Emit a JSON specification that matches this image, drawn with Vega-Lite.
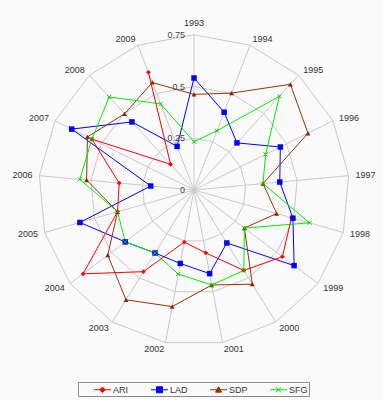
{
  "$schema": "https://vega.github.io/schema/vega-lite/v6.json",
  "width": 383,
  "height": 400,
  "autosize": "none",
  "padding": 0,
  "background": "#fafafa",
  "config": {"view": {"stroke": null}, "font": "Liberation Sans"},
  "datasets": {
    "series": [
      {"series": "ARI", "year": 1998, "value": 0.49},
      {"series": "ARI", "year": 1999, "value": 0.535},
      {"series": "ARI", "year": 2000, "value": 0.457},
      {"series": "ARI", "year": 2001, "value": 0.309},
      {"series": "ARI", "year": 2002, "value": 0.256},
      {"series": "ARI", "year": 2003, "value": 0.464},
      {"series": "ARI", "year": 2004, "value": 0.672},
      {"series": "ARI", "year": 2005, "value": 0.384},
      {"series": "ARI", "year": 2006, "value": 0.363},
      {"series": "ARI", "year": 2007, "value": 0.551},
      {"series": "ARI", "year": 2008, "value": 0.168},
      {"series": "ARI", "year": 2009, "value": 0.61},
      {"series": "LAD", "year": 1993, "value": 0.541},
      {"series": "LAD", "year": 1994, "value": 0.403},
      {"series": "LAD", "year": 1995, "value": 0.308},
      {"series": "LAD", "year": 1996, "value": 0.466},
      {"series": "LAD", "year": 1997, "value": 0.416},
      {"series": "LAD", "year": 1998, "value": 0.497},
      {"series": "LAD", "year": 1999, "value": 0.606},
      {"series": "LAD", "year": 2000, "value": 0.301},
      {"series": "LAD", "year": 2001, "value": 0.411},
      {"series": "LAD", "year": 2002, "value": 0.361},
      {"series": "LAD", "year": 2003, "value": 0.358},
      {"series": "LAD", "year": 2004, "value": 0.416},
      {"series": "LAD", "year": 2005, "value": 0.573},
      {"series": "LAD", "year": 2006, "value": 0.21},
      {"series": "LAD", "year": 2007, "value": 0.66},
      {"series": "LAD", "year": 2008, "value": 0.445},
      {"series": "LAD", "year": 2009, "value": 0.226},
      {"series": "SDP", "year": 1993, "value": 0.462},
      {"series": "SDP", "year": 1994, "value": 0.502},
      {"series": "SDP", "year": 1995, "value": 0.691},
      {"series": "SDP", "year": 1996, "value": 0.615},
      {"series": "SDP", "year": 1997, "value": 0.335},
      {"series": "SDP", "year": 1998, "value": 0.415},
      {"series": "SDP", "year": 1999, "value": 0.305},
      {"series": "SDP", "year": 2000, "value": 0.535},
      {"series": "SDP", "year": 2001, "value": 0.467},
      {"series": "SDP", "year": 2002, "value": 0.573},
      {"series": "SDP", "year": 2003, "value": 0.624},
      {"series": "SDP", "year": 2004, "value": 0.522},
      {"series": "SDP", "year": 2005, "value": 0.384},
      {"series": "SDP", "year": 2006, "value": 0.521},
      {"series": "SDP", "year": 2007, "value": 0.575},
      {"series": "SDP", "year": 2008, "value": 0.498},
      {"series": "SDP", "year": 2009, "value": 0.557},
      {"series": "SFG", "year": 1993, "value": 0.233},
      {"series": "SFG", "year": 1994, "value": 0.307},
      {"series": "SFG", "year": 1995, "value": 0.613},
      {"series": "SFG", "year": 1996, "value": 0.386},
      {"series": "SFG", "year": 1997, "value": 0.335},
      {"series": "SFG", "year": 1998, "value": 0.58},
      {"series": "SFG", "year": 1999, "value": 0.305},
      {"series": "SFG", "year": 2000, "value": 0.457},
      {"series": "SFG", "year": 2001, "value": 0.467},
      {"series": "SFG", "year": 2002, "value": 0.413},
      {"series": "SFG", "year": 2003, "value": 0.358},
      {"series": "SFG", "year": 2004, "value": 0.416},
      {"series": "SFG", "year": 2005, "value": 0.384},
      {"series": "SFG", "year": 2006, "value": 0.554},
      {"series": "SFG", "year": 2007, "value": 0.551},
      {"series": "SFG", "year": 2008, "value": 0.608},
      {"series": "SFG", "year": 2009, "value": 0.446}
    ],
    "years": [
      {"year": 1993, "label": "1993", "lv": [0.25, 0.5, 0.75]},
      {"year": 1994, "label": "1994", "lv": [0.25, 0.5, 0.75]},
      {"year": 1995, "label": "1995", "lv": [0.25, 0.5, 0.75]},
      {"year": 1996, "label": "1996", "lv": [0.25, 0.5, 0.75]},
      {"year": 1997, "label": "1997", "lv": [0.25, 0.5, 0.75]},
      {"year": 1998, "label": "1998", "lv": [0.25, 0.5, 0.75]},
      {"year": 1999, "label": "1999", "lv": [0.25, 0.5, 0.75]},
      {"year": 2000, "label": "2000", "lv": [0.25, 0.5, 0.75]},
      {"year": 2001, "label": "2001", "lv": [0.25, 0.5, 0.75]},
      {"year": 2002, "label": "2002", "lv": [0.25, 0.5, 0.75]},
      {"year": 2003, "label": "2003", "lv": [0.25, 0.5, 0.75]},
      {"year": 2004, "label": "2004", "lv": [0.25, 0.5, 0.75]},
      {"year": 2005, "label": "2005", "lv": [0.25, 0.5, 0.75]},
      {"year": 2006, "label": "2006", "lv": [0.25, 0.5, 0.75]},
      {"year": 2007, "label": "2007", "lv": [0.25, 0.5, 0.75]},
      {"year": 2008, "label": "2008", "lv": [0.25, 0.5, 0.75]},
      {"year": 2009, "label": "2009", "lv": [0.25, 0.5, 0.75]}
    ],
    "ticks": [
      {"v": 0, "label": "0"},
      {"v": 0.25, "label": "0.25"},
      {"v": 0.5, "label": "0.5"},
      {"v": 0.75, "label": "0.75"}
    ]
  },
  "transform": [
    {"calculate": "(datum.year - 1993) * 2 * PI / 17", "as": "ang"},
    {"calculate": "datum.value * sin(datum.ang)", "as": "px"},
    {"calculate": "datum.value * cos(datum.ang)", "as": "py"}
  ],
  "data": {"name": "series"},
  "layer": [
    {
      "data": {"name": "years"},
      "transform": [
        {"flatten": ["lv"]},
        {"calculate": "(datum.year - 1993) * 2 * PI / 17", "as": "ang"},
        {"calculate": "datum.lv * sin(datum.ang)", "as": "gx"},
        {"calculate": "datum.lv * cos(datum.ang)", "as": "gy"}
      ],
      "mark": {"type": "line", "interpolate": "linear-closed", "stroke": "#cdc6cd", "strokeWidth": 1},
      "encoding": {
        "x": {"field": "gx", "type": "quantitative", "scale": {"domain": [-0.9372, 0.913], "nice": false, "zero": false}, "axis": null},
        "y": {"field": "gy", "type": "quantitative", "scale": {"domain": [-1.0145, 0.9179], "nice": false, "zero": false}, "axis": null},
        "detail": {"field": "lv", "type": "nominal"},
        "order": {"field": "year", "type": "quantitative"}
      }
    },
    {
      "data": {"name": "years"},
      "transform": [
        {"calculate": "(datum.year - 1993) * 2 * PI / 17", "as": "ang"},
        {"calculate": "0.75 * sin(datum.ang)", "as": "sx"},
        {"calculate": "0.75 * cos(datum.ang)", "as": "sy"}
      ],
      "mark": {"type": "rule", "stroke": "#cdc6cd", "strokeWidth": 1},
      "encoding": {
        "x": {"field": "sx", "type": "quantitative"},
        "y": {"field": "sy", "type": "quantitative"},
        "x2": {"datum": 0},
        "y2": {"datum": 0}
      }
    },
    {
      "transform": [{"filter": "datum.series != 'ARI'"}],
      "mark": {"type": "line", "interpolate": "linear-closed", "strokeWidth": 1},
      "encoding": {
        "x": {"field": "px", "type": "quantitative"},
        "y": {"field": "py", "type": "quantitative"},
        "order": {"field": "year", "type": "quantitative"},
        "color": {
          "field": "series", "type": "nominal",
          "scale": {"domain": ["ARI", "LAD", "SDP", "SFG"], "range": ["#ff0000", "#0000ff", "#993300", "#00ee00"]},
          "legend": {
            "orient": "none", "legendX": 78, "legendY": 382,
            "direction": "horizontal", "columns": 4,
            "title": " ", "titleOrient": "left", "titlePadding": 17, "titleFontSize": 9,
            "padding": 1, "strokeColor": "#8c8c8c", "fillColor": "#fafafa",
            "symbolSize": 144, "labelOffset": 4, "columnPadding": 19,
            "symbolStrokeWidth": 1,
            "labelFont": "Liberation Sans", "labelFontSize": 9, "labelColor": "#333333",
            "labelExpr": "datum.label == 'SFG' ? 'SFG\u2007\u2007\u2007' : datum.label",
            "encode": {
              "symbols": {
                "update": {
                  "shape": {"signal": "datum.value == 'ARI' ? 'M-1.42,0L1.42,0M0,-0.45L0.45,0L0,0.45L-0.45,0Z' : datum.value == 'LAD' ? 'M-1.42,0L1.42,0M-0.5,-0.5L0.5,-0.5L0.5,0.5L-0.5,0.5Z' : datum.value == 'SDP' ? 'M-1.42,0L1.42,0M0,-0.5L0.5,0.4L-0.5,0.4Z' : 'M-1.42,0L1.42,0M-0.45,-0.45L0.45,0.45M-0.45,0.45L0.45,-0.45'"},
                  "fill": {"signal": "scale('color', datum.value)"},
                  "stroke": {"signal": "scale('color', datum.value)"},
                  "strokeWidth": {"value": 1},
                  "strokeOpacity": {"value": 1},
                  "fillOpacity": {"value": 1},
                  "opacity": {"value": 1}
                }
              }
            }
          }
        }
      }
    },
    {
      "transform": [{"filter": "datum.series == 'ARI'"}],
      "mark": {"type": "line", "interpolate": "linear", "strokeWidth": 1},
      "encoding": {
        "x": {"field": "px", "type": "quantitative"},
        "y": {"field": "py", "type": "quantitative"},
        "order": {"field": "year", "type": "quantitative"},
        "color": {"field": "series", "type": "nominal"}
      }
    },
    {
      "transform": [{"filter": "datum.series == 'ARI'"}],
      "mark": {"type": "point", "shape": "diamond", "filled": true, "opacity": 1, "size": 22, "color": "#ff0000"},
      "encoding": {
        "x": {"field": "px", "type": "quantitative"},
        "y": {"field": "py", "type": "quantitative"}
      }
    },
    {
      "transform": [{"filter": "datum.series == 'LAD'"}],
      "mark": {"type": "point", "shape": "square", "filled": true, "opacity": 1, "size": 30, "color": "#0000ff"},
      "encoding": {
        "x": {"field": "px", "type": "quantitative"},
        "y": {"field": "py", "type": "quantitative"}
      }
    },
    {
      "transform": [{"filter": "datum.series == 'SDP'"}],
      "mark": {"type": "point", "shape": "triangle-up", "filled": true, "opacity": 1, "size": 24, "color": "#8b2500"},
      "encoding": {
        "x": {"field": "px", "type": "quantitative"},
        "y": {"field": "py", "type": "quantitative"}
      }
    },
    {
      "transform": [{"filter": "datum.series == 'SFG'"}],
      "mark": {"type": "point", "shape": "M-1,-1L1,1M-1,1L1,-1", "filled": false, "opacity": 1, "size": 16, "strokeWidth": 1, "color": "#00cc00"},
      "encoding": {
        "x": {"field": "px", "type": "quantitative"},
        "y": {"field": "py", "type": "quantitative"}
      }
    },
    {
      "data": {"name": "ticks"},
      "transform": [],
      "mark": {"type": "text", "align": "right", "baseline": "middle", "dx": -9, "fontSize": 9, "font": "Liberation Sans", "color": "#444444"},
      "encoding": {
        "x": {"datum": 0},
        "y": {"field": "v", "type": "quantitative"},
        "text": {"field": "label", "type": "nominal"}
      }
    },
    {
      "data": {"name": "years"},
      "transform": [
        {"calculate": "(datum.year - 1993) * 2 * PI / 17", "as": "ang"},
        {"calculate": "0.783 * sin(datum.ang)", "as": "lx"},
        {"calculate": "0.783 * cos(datum.ang)", "as": "ly"},
        {"filter": "datum.year >= 1994 && datum.year <= 2001"}
      ],
      "mark": {"type": "text", "align": "left", "baseline": "middle", "fontSize": 9, "font": "Liberation Sans", "color": "#333333"},
      "encoding": {
        "x": {"field": "lx", "type": "quantitative"},
        "y": {"field": "ly", "type": "quantitative"},
        "text": {"field": "label", "type": "nominal"}
      }
    },
    {
      "data": {"name": "years"},
      "transform": [
        {"calculate": "(datum.year - 1993) * 2 * PI / 17", "as": "ang"},
        {"calculate": "0.783 * sin(datum.ang)", "as": "lx"},
        {"calculate": "0.783 * cos(datum.ang)", "as": "ly"},
        {"filter": "datum.year >= 2002"}
      ],
      "mark": {"type": "text", "align": "right", "baseline": "middle", "fontSize": 9, "font": "Liberation Sans", "color": "#333333"},
      "encoding": {
        "x": {"field": "lx", "type": "quantitative"},
        "y": {"field": "ly", "type": "quantitative"},
        "text": {"field": "label", "type": "nominal"}
      }
    },
    {
      "data": {"name": "years"},
      "transform": [
        {"calculate": "(datum.year - 1993) * 2 * PI / 17", "as": "ang"},
        {"calculate": "0.783 * sin(datum.ang)", "as": "lx"},
        {"calculate": "0.783 * cos(datum.ang)", "as": "ly"},
        {"filter": "datum.year == 1993"}
      ],
      "mark": {"type": "text", "align": "center", "baseline": "bottom", "fontSize": 9, "font": "Liberation Sans", "color": "#333333"},
      "encoding": {
        "x": {"field": "lx", "type": "quantitative"},
        "y": {"field": "ly", "type": "quantitative"},
        "text": {"field": "label", "type": "nominal"}
      }
    }
  ]
}
